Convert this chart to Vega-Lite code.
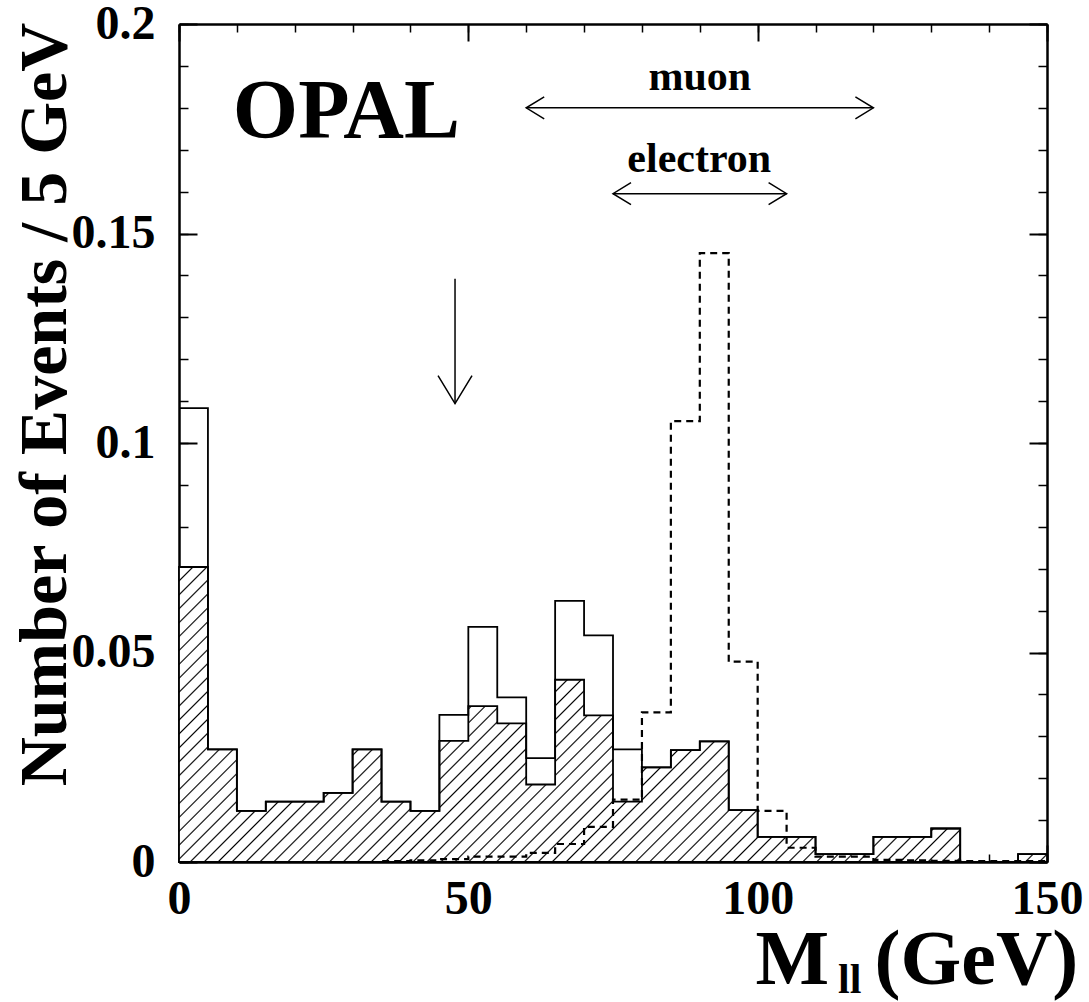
{
"$schema": "https://vega.github.io/schema/vega-lite/v6.json",
"width": 868, "height": 838,
"autosize": {"type": "none"},
"padding": {"left": 179, "top": 24, "right": 42, "bottom": 140},
"background": "white",
"config": {"view": {"stroke": null}, "axis": {"grid": false, "zindex": 1, "labelFont": "Liberation Serif", "titleFont": "Liberation Serif", "domainColor": "#000", "tickColor": "#000", "labelColor": "#000", "titleColor": "#000"}},
"datasets": {
"bins": [
{"lo":0,"hi":5,"total":0.1083,"hatched":0.0704,"mc":0},
{"lo":5,"hi":10,"total":0.0269,"hatched":0.0269,"mc":0},
{"lo":10,"hi":15,"total":0.0122,"hatched":0.0122,"mc":0},
{"lo":15,"hi":20,"total":0.0144,"hatched":0.0144,"mc":0},
{"lo":20,"hi":25,"total":0.0144,"hatched":0.0144,"mc":0},
{"lo":25,"hi":30,"total":0.0165,"hatched":0.0165,"mc":0},
{"lo":30,"hi":35,"total":0.0269,"hatched":0.0269,"mc":0},
{"lo":35,"hi":40,"total":0.0144,"hatched":0.0144,"mc":0.0002},
{"lo":40,"hi":45,"total":0.0122,"hatched":0.0122,"mc":0.0004},
{"lo":45,"hi":50,"total":0.0351,"hatched":0.0289,"mc":0.0007},
{"lo":50,"hi":55,"total":0.0561,"hatched":0.0372,"mc":0.0013},
{"lo":55,"hi":60,"total":0.0393,"hatched":0.0331,"mc":0.0013},
{"lo":60,"hi":65,"total":0.0248,"hatched":0.0185,"mc":0.0022},
{"lo":65,"hi":70,"total":0.0623,"hatched":0.0435,"mc":0.0043},
{"lo":70,"hi":75,"total":0.0541,"hatched":0.0350,"mc":0.0084},
{"lo":75,"hi":80,"total":0.0269,"hatched":0.0144,"mc":0.0149},
{"lo":80,"hi":85,"total":0.0226,"hatched":0.0226,"mc":0.0357},
{"lo":85,"hi":90,"total":0.0267,"hatched":0.0267,"mc":0.1052},
{"lo":90,"hi":95,"total":0.0288,"hatched":0.0288,"mc":0.1453},
{"lo":95,"hi":100,"total":0.0124,"hatched":0.0124,"mc":0.0478},
{"lo":100,"hi":105,"total":0.0060,"hatched":0.0060,"mc":0.0122},
{"lo":105,"hi":110,"total":0.0060,"hatched":0.0060,"mc":0.0034},
{"lo":110,"hi":115,"total":0.0019,"hatched":0.0019,"mc":0.0013},
{"lo":115,"hi":120,"total":0.0019,"hatched":0.0019,"mc":0.0013},
{"lo":120,"hi":125,"total":0.0060,"hatched":0.0060,"mc":0.0005},
{"lo":125,"hi":130,"total":0.0060,"hatched":0.0060,"mc":0.0004},
{"lo":130,"hi":135,"total":0.0080,"hatched":0.0080,"mc":0.0003},
{"lo":135,"hi":140,"total":0,"hatched":0,"mc":0.0002},
{"lo":140,"hi":145,"total":0,"hatched":0,"mc":0.0002},
{"lo":145,"hi":150,"total":0.0019,"hatched":0.0019,"mc":0.0002}
],
"arrows": [
{"x1":60,"x2":120,"y1":0.18,"y2":0.18},
{"x1":75,"x2":105,"y1":0.1595,"y2":0.1595},
{"x1":47.7,"x2":47.7,"y1":0.1392,"y2":0.1094}
],
"heads": [
{"x":60,"y":0.18,"dir":"left"},
{"x":120,"y":0.18,"dir":"right"},
{"x":75,"y":0.1595,"dir":"left"},
{"x":105,"y":0.1595,"dir":"right"},
{"x":47.7,"y":0.1094,"dir":"down"}
],
"notes": [
{"kind":"logo","text":"OPAL","x":9.3,"y":0.1728},
{"kind":"small","text":"muon","x":90,"y":0.1842},
{"kind":"small","text":"electron","x":89.9,"y":0.1647},
{"kind":"small","text":"ll","x":115.9,"y":-0.0313},
{"kind":"title","text":"M","x":106.0,"y":-0.0291},
{"kind":"title","text":"(GeV)","x":137.8,"y":-0.0291}
]
},
"resolve": {"axis": {"x": "independent", "y": "independent"}},
"layer": [
{
"data": {"name": "bins"},
"transform": [{"fold": ["lo", "hi"], "as": ["edge", "m"]}],
"mark": {"type": "area", "stroke": "#000", "strokeWidth": 1.8, "fill": {"gradient": "linear", "x1": 0, "y1": 0, "x2": 1.25, "y2": 0.4249, "stops": [
{"offset":0.0102,"color":"#fff"},{"offset":0.0115,"color":"#000"},{"offset":0.0128,"color":"#fff"},
{"offset":0.0217,"color":"#fff"},{"offset":0.023,"color":"#000"},{"offset":0.0243,"color":"#fff"},
{"offset":0.0332,"color":"#fff"},{"offset":0.0345,"color":"#000"},{"offset":0.0358,"color":"#fff"},
{"offset":0.0447,"color":"#fff"},{"offset":0.046,"color":"#000"},{"offset":0.0473,"color":"#fff"},
{"offset":0.0562,"color":"#fff"},{"offset":0.0575,"color":"#000"},{"offset":0.0588,"color":"#fff"},
{"offset":0.0677,"color":"#fff"},{"offset":0.069,"color":"#000"},{"offset":0.0703,"color":"#fff"},
{"offset":0.0792,"color":"#fff"},{"offset":0.0805,"color":"#000"},{"offset":0.0818,"color":"#fff"},
{"offset":0.0907,"color":"#fff"},{"offset":0.092,"color":"#000"},{"offset":0.0933,"color":"#fff"},
{"offset":0.1022,"color":"#fff"},{"offset":0.1035,"color":"#000"},{"offset":0.1048,"color":"#fff"},
{"offset":0.1137,"color":"#fff"},{"offset":0.115,"color":"#000"},{"offset":0.1163,"color":"#fff"},
{"offset":0.1252,"color":"#fff"},{"offset":0.1265,"color":"#000"},{"offset":0.1278,"color":"#fff"},
{"offset":0.1367,"color":"#fff"},{"offset":0.138,"color":"#000"},{"offset":0.1393,"color":"#fff"},
{"offset":0.1482,"color":"#fff"},{"offset":0.1495,"color":"#000"},{"offset":0.1508,"color":"#fff"},
{"offset":0.1597,"color":"#fff"},{"offset":0.161,"color":"#000"},{"offset":0.1623,"color":"#fff"},
{"offset":0.1712,"color":"#fff"},{"offset":0.1725,"color":"#000"},{"offset":0.1738,"color":"#fff"},
{"offset":0.1827,"color":"#fff"},{"offset":0.184,"color":"#000"},{"offset":0.1853,"color":"#fff"},
{"offset":0.1942,"color":"#fff"},{"offset":0.1955,"color":"#000"},{"offset":0.1968,"color":"#fff"},
{"offset":0.2057,"color":"#fff"},{"offset":0.207,"color":"#000"},{"offset":0.2083,"color":"#fff"},
{"offset":0.2172,"color":"#fff"},{"offset":0.2185,"color":"#000"},{"offset":0.2198,"color":"#fff"},
{"offset":0.2287,"color":"#fff"},{"offset":0.23,"color":"#000"},{"offset":0.2313,"color":"#fff"},
{"offset":0.2402,"color":"#fff"},{"offset":0.2415,"color":"#000"},{"offset":0.2428,"color":"#fff"},
{"offset":0.2517,"color":"#fff"},{"offset":0.253,"color":"#000"},{"offset":0.2543,"color":"#fff"},
{"offset":0.2632,"color":"#fff"},{"offset":0.2645,"color":"#000"},{"offset":0.2658,"color":"#fff"},
{"offset":0.2747,"color":"#fff"},{"offset":0.276,"color":"#000"},{"offset":0.2773,"color":"#fff"},
{"offset":0.2862,"color":"#fff"},{"offset":0.2875,"color":"#000"},{"offset":0.2888,"color":"#fff"},
{"offset":0.2977,"color":"#fff"},{"offset":0.299,"color":"#000"},{"offset":0.3003,"color":"#fff"},
{"offset":0.3092,"color":"#fff"},{"offset":0.3105,"color":"#000"},{"offset":0.3118,"color":"#fff"},
{"offset":0.3207,"color":"#fff"},{"offset":0.322,"color":"#000"},{"offset":0.3233,"color":"#fff"},
{"offset":0.3322,"color":"#fff"},{"offset":0.3335,"color":"#000"},{"offset":0.3348,"color":"#fff"},
{"offset":0.3437,"color":"#fff"},{"offset":0.345,"color":"#000"},{"offset":0.3463,"color":"#fff"},
{"offset":0.3552,"color":"#fff"},{"offset":0.3565,"color":"#000"},{"offset":0.3578,"color":"#fff"},
{"offset":0.3667,"color":"#fff"},{"offset":0.368,"color":"#000"},{"offset":0.3693,"color":"#fff"},
{"offset":0.3782,"color":"#fff"},{"offset":0.3795,"color":"#000"},{"offset":0.3808,"color":"#fff"},
{"offset":0.3897,"color":"#fff"},{"offset":0.391,"color":"#000"},{"offset":0.3923,"color":"#fff"},
{"offset":0.4012,"color":"#fff"},{"offset":0.4025,"color":"#000"},{"offset":0.4038,"color":"#fff"},
{"offset":0.4127,"color":"#fff"},{"offset":0.414,"color":"#000"},{"offset":0.4153,"color":"#fff"},
{"offset":0.4242,"color":"#fff"},{"offset":0.4255,"color":"#000"},{"offset":0.4268,"color":"#fff"},
{"offset":0.4357,"color":"#fff"},{"offset":0.437,"color":"#000"},{"offset":0.4383,"color":"#fff"},
{"offset":0.4472,"color":"#fff"},{"offset":0.4485,"color":"#000"},{"offset":0.4498,"color":"#fff"},
{"offset":0.4587,"color":"#fff"},{"offset":0.46,"color":"#000"},{"offset":0.4613,"color":"#fff"},
{"offset":0.4702,"color":"#fff"},{"offset":0.4715,"color":"#000"},{"offset":0.4728,"color":"#fff"},
{"offset":0.4817,"color":"#fff"},{"offset":0.483,"color":"#000"},{"offset":0.4843,"color":"#fff"},
{"offset":0.4932,"color":"#fff"},{"offset":0.4945,"color":"#000"},{"offset":0.4958,"color":"#fff"},
{"offset":0.5047,"color":"#fff"},{"offset":0.506,"color":"#000"},{"offset":0.5073,"color":"#fff"},
{"offset":0.5162,"color":"#fff"},{"offset":0.5175,"color":"#000"},{"offset":0.5188,"color":"#fff"},
{"offset":0.5277,"color":"#fff"},{"offset":0.529,"color":"#000"},{"offset":0.5303,"color":"#fff"},
{"offset":0.5392,"color":"#fff"},{"offset":0.5405,"color":"#000"},{"offset":0.5418,"color":"#fff"},
{"offset":0.5507,"color":"#fff"},{"offset":0.552,"color":"#000"},{"offset":0.5533,"color":"#fff"},
{"offset":0.5622,"color":"#fff"},{"offset":0.5635,"color":"#000"},{"offset":0.5648,"color":"#fff"},
{"offset":0.5737,"color":"#fff"},{"offset":0.575,"color":"#000"},{"offset":0.5763,"color":"#fff"},
{"offset":0.5852,"color":"#fff"},{"offset":0.5865,"color":"#000"},{"offset":0.5878,"color":"#fff"},
{"offset":0.5967,"color":"#fff"},{"offset":0.598,"color":"#000"},{"offset":0.5993,"color":"#fff"},
{"offset":0.6082,"color":"#fff"},{"offset":0.6095,"color":"#000"},{"offset":0.6108,"color":"#fff"},
{"offset":0.6197,"color":"#fff"},{"offset":0.621,"color":"#000"},{"offset":0.6223,"color":"#fff"},
{"offset":0.6312,"color":"#fff"},{"offset":0.6325,"color":"#000"},{"offset":0.6338,"color":"#fff"},
{"offset":0.6427,"color":"#fff"},{"offset":0.644,"color":"#000"},{"offset":0.6453,"color":"#fff"},
{"offset":0.6542,"color":"#fff"},{"offset":0.6555,"color":"#000"},{"offset":0.6568,"color":"#fff"},
{"offset":0.6657,"color":"#fff"},{"offset":0.667,"color":"#000"},{"offset":0.6683,"color":"#fff"},
{"offset":0.6772,"color":"#fff"},{"offset":0.6785,"color":"#000"},{"offset":0.6798,"color":"#fff"},
{"offset":0.6887,"color":"#fff"},{"offset":0.69,"color":"#000"},{"offset":0.6913,"color":"#fff"},
{"offset":0.7002,"color":"#fff"},{"offset":0.7015,"color":"#000"},{"offset":0.7028,"color":"#fff"},
{"offset":0.7117,"color":"#fff"},{"offset":0.713,"color":"#000"},{"offset":0.7143,"color":"#fff"},
{"offset":0.7232,"color":"#fff"},{"offset":0.7245,"color":"#000"},{"offset":0.7258,"color":"#fff"},
{"offset":0.7347,"color":"#fff"},{"offset":0.736,"color":"#000"},{"offset":0.7373,"color":"#fff"},
{"offset":0.7462,"color":"#fff"},{"offset":0.7475,"color":"#000"},{"offset":0.7488,"color":"#fff"},
{"offset":0.7577,"color":"#fff"},{"offset":0.759,"color":"#000"},{"offset":0.7603,"color":"#fff"},
{"offset":0.7692,"color":"#fff"},{"offset":0.7705,"color":"#000"},{"offset":0.7718,"color":"#fff"},
{"offset":0.7807,"color":"#fff"},{"offset":0.782,"color":"#000"},{"offset":0.7833,"color":"#fff"},
{"offset":0.7922,"color":"#fff"},{"offset":0.7935,"color":"#000"},{"offset":0.7948,"color":"#fff"},
{"offset":0.8037,"color":"#fff"},{"offset":0.805,"color":"#000"},{"offset":0.8063,"color":"#fff"},
{"offset":0.8152,"color":"#fff"},{"offset":0.8165,"color":"#000"},{"offset":0.8178,"color":"#fff"},
{"offset":0.8267,"color":"#fff"},{"offset":0.828,"color":"#000"},{"offset":0.8293,"color":"#fff"},
{"offset":0.8382,"color":"#fff"},{"offset":0.8395,"color":"#000"},{"offset":0.8408,"color":"#fff"},
{"offset":0.8497,"color":"#fff"},{"offset":0.851,"color":"#000"},{"offset":0.8523,"color":"#fff"},
{"offset":0.8612,"color":"#fff"},{"offset":0.8625,"color":"#000"},{"offset":0.8638,"color":"#fff"},
{"offset":0.8727,"color":"#fff"},{"offset":0.874,"color":"#000"},{"offset":0.8753,"color":"#fff"},
{"offset":0.8842,"color":"#fff"},{"offset":0.8855,"color":"#000"},{"offset":0.8868,"color":"#fff"},
{"offset":0.8957,"color":"#fff"},{"offset":0.897,"color":"#000"},{"offset":0.8983,"color":"#fff"},
{"offset":0.9072,"color":"#fff"},{"offset":0.9085,"color":"#000"},{"offset":0.9098,"color":"#fff"},
{"offset":0.9187,"color":"#fff"},{"offset":0.92,"color":"#000"},{"offset":0.9213,"color":"#fff"},
{"offset":0.9302,"color":"#fff"},{"offset":0.9315,"color":"#000"},{"offset":0.9328,"color":"#fff"},
{"offset":0.9417,"color":"#fff"},{"offset":0.943,"color":"#000"},{"offset":0.9443,"color":"#fff"},
{"offset":0.9532,"color":"#fff"},{"offset":0.9545,"color":"#000"},{"offset":0.9558,"color":"#fff"},
{"offset":0.9647,"color":"#fff"},{"offset":0.966,"color":"#000"},{"offset":0.9673,"color":"#fff"}
]}},
"encoding": {
"x": {"field": "m", "type": "quantitative", "scale": {"domain": [0, 150], "nice": false, "zero": false},
 "axis": {"orient": "bottom", "values": [0, 50, 100, 150], "format": "d", "ticks": false, "tickSize": 0, "labelPadding": 13, "labelFontSize": 48, "labelFontWeight": "bold", "labelFlush": false, "labelOverlap": false, "domain": true, "domainWidth": 2.5, "title": null}},
"y": {"field": "hatched", "type": "quantitative", "stack": null, "scale": {"domain": [0, 0.2], "nice": false, "zero": false},
 "axis": {"orient": "left", "values": [0, 0.05, 0.1, 0.15, 0.2], "format": "~g", "ticks": false, "tickSize": 0, "labelPadding": 24, "labelFontSize": 48, "labelFontWeight": "bold", "labelOverlap": false, "labelFlush": false, "domain": true, "domainWidth": 2.5, "title": "Number of Events / 5 GeV", "titleFontSize": 68, "titleFontWeight": "bold", "titleAngle": 270, "titleAlign": "center", "titleBaseline": "alphabetic", "titleX": -114, "titleY": 380}}
}
},
{
"data": {"name": "bins"},
"transform": [{"fold": ["lo", "hi"], "as": ["edge", "m"]}],
"mark": {"type": "line", "stroke": "#000", "strokeWidth": 1.8},
"encoding": {
"x": {"field": "m", "type": "quantitative", "scale": {"domain": [0, 150], "nice": false, "zero": false},
 "axis": {"orient": "bottom", "values": [0, 50, 100, 150], "labels": false, "domain": false, "tickSize": -17, "tickWidth": 2, "title": null}},
"y": {"field": "total", "type": "quantitative", "scale": {"domain": [0, 0.2], "nice": false, "zero": false},
 "axis": {"orient": "left", "values": [0, 0.05, 0.1, 0.15, 0.2], "labels": false, "domain": false, "tickSize": -18, "tickWidth": 2, "title": null}}
}
},
{
"data": {"name": "bins"},
"transform": [{"fold": ["lo", "hi"], "as": ["edge", "m"]}],
"mark": {"type": "line", "stroke": "#000", "strokeWidth": 2.2, "strokeDash": [7, 5]},
"encoding": {
"x": {"field": "m", "type": "quantitative", "scale": {"domain": [0, 150], "nice": false, "zero": false},
 "axis": {"orient": "bottom", "values": [0,10,20,30,40,50,60,70,80,90,100,110,120,130,140,150], "labels": false, "domain": false, "tickSize": -8, "tickWidth": 1.5, "title": null}},
"y": {"field": "mc", "type": "quantitative", "scale": {"domain": [0, 0.2], "nice": false, "zero": false},
 "axis": {"orient": "left", "values": [0,0.01,0.02,0.03,0.04,0.05,0.06,0.07,0.08,0.09,0.1,0.11,0.12,0.13,0.14,0.15,0.16,0.17,0.18,0.19,0.2], "labels": false, "domain": false, "tickSize": -9, "tickWidth": 1.5, "title": null}}
}
},
{
"data": {"name": "arrows"},
"mark": {"type": "rule", "stroke": "#000", "strokeWidth": 1.5},
"encoding": {
"x": {"field": "x1", "type": "quantitative", "scale": {"domain": [0, 150], "nice": false, "zero": false},
 "axis": {"orient": "top", "values": [0, 50, 100, 150], "labels": false, "domain": true, "domainWidth": 2.5, "tickSize": -17, "tickWidth": 2, "title": null}},
"x2": {"field": "x2"},
"y": {"field": "y1", "type": "quantitative", "scale": {"domain": [0, 0.2], "nice": false, "zero": false},
 "axis": {"orient": "right", "values": [0, 0.05, 0.1, 0.15, 0.2], "labels": false, "domain": true, "domainWidth": 2.5, "tickSize": -18, "tickWidth": 2, "title": null}},
"y2": {"field": "y2"}
}
},
{
"data": {"name": "heads"},
"mark": {"type": "point", "filled": false, "stroke": "#000", "strokeWidth": 1.5, "opacity": 1, "size": 3136},
"encoding": {
"x": {"field": "x", "type": "quantitative", "scale": {"domain": [0, 150], "nice": false, "zero": false},
 "axis": {"orient": "top", "values": [0,10,20,30,40,50,60,70,80,90,100,110,120,130,140,150], "labels": false, "domain": false, "tickSize": -8, "tickWidth": 1.5, "title": null}},
"y": {"field": "y", "type": "quantitative", "scale": {"domain": [0, 0.2], "nice": false, "zero": false},
 "axis": {"orient": "right", "values": [0,0.01,0.02,0.03,0.04,0.05,0.06,0.07,0.08,0.09,0.1,0.11,0.12,0.13,0.14,0.15,0.16,0.17,0.18,0.19,0.2], "labels": false, "domain": false, "tickSize": -9, "tickWidth": 1.5, "title": null}},
"shape": {"field": "dir", "type": "nominal", "legend": null, "scale": {"domain": ["left", "right", "down"], "range": ["M 0.643 -0.393 L 0 0 L 0.643 0.393", "M -0.643 -0.393 L 0 0 L -0.643 0.393", "M -0.607 -1 L 0 0 L 0.607 -1"]}}
}
},
{
"data": {"name": "notes"},
"transform": [{"filter": "datum.kind == 'logo'"}],
"mark": {"type": "text", "font": "Liberation Serif", "fontWeight": "bold", "fontSize": 84, "align": "left", "baseline": "alphabetic", "color": "#000"},
"encoding": {
"x": {"field": "x", "type": "quantitative", "scale": {"domain": [0, 150], "nice": false, "zero": false}, "axis": null},
"y": {"field": "y", "type": "quantitative", "scale": {"domain": [0, 0.2], "nice": false, "zero": false}, "axis": null},
"text": {"field": "text"}
}
},
{
"data": {"name": "notes"},
"transform": [{"filter": "datum.kind == 'small'"}],
"mark": {"type": "text", "font": "Liberation Serif", "fontWeight": "bold", "fontSize": 42, "align": "center", "baseline": "alphabetic", "color": "#000"},
"encoding": {
"x": {"field": "x", "type": "quantitative", "scale": {"domain": [0, 150], "nice": false, "zero": false}, "axis": null},
"y": {"field": "y", "type": "quantitative", "scale": {"domain": [0, 0.2], "nice": false, "zero": false}, "axis": null},
"text": {"field": "text"}
}
},
{
"data": {"name": "notes"},
"transform": [{"filter": "datum.kind == 'title'"}],
"mark": {"type": "text", "font": "Liberation Serif", "fontWeight": "bold", "fontSize": 78, "align": "center", "baseline": "alphabetic", "color": "#000"},
"encoding": {
"x": {"field": "x", "type": "quantitative", "scale": {"domain": [0, 150], "nice": false, "zero": false}, "axis": null},
"y": {"field": "y", "type": "quantitative", "scale": {"domain": [0, 0.2], "nice": false, "zero": false}, "axis": null},
"text": {"field": "text"}
}
}
]
}
